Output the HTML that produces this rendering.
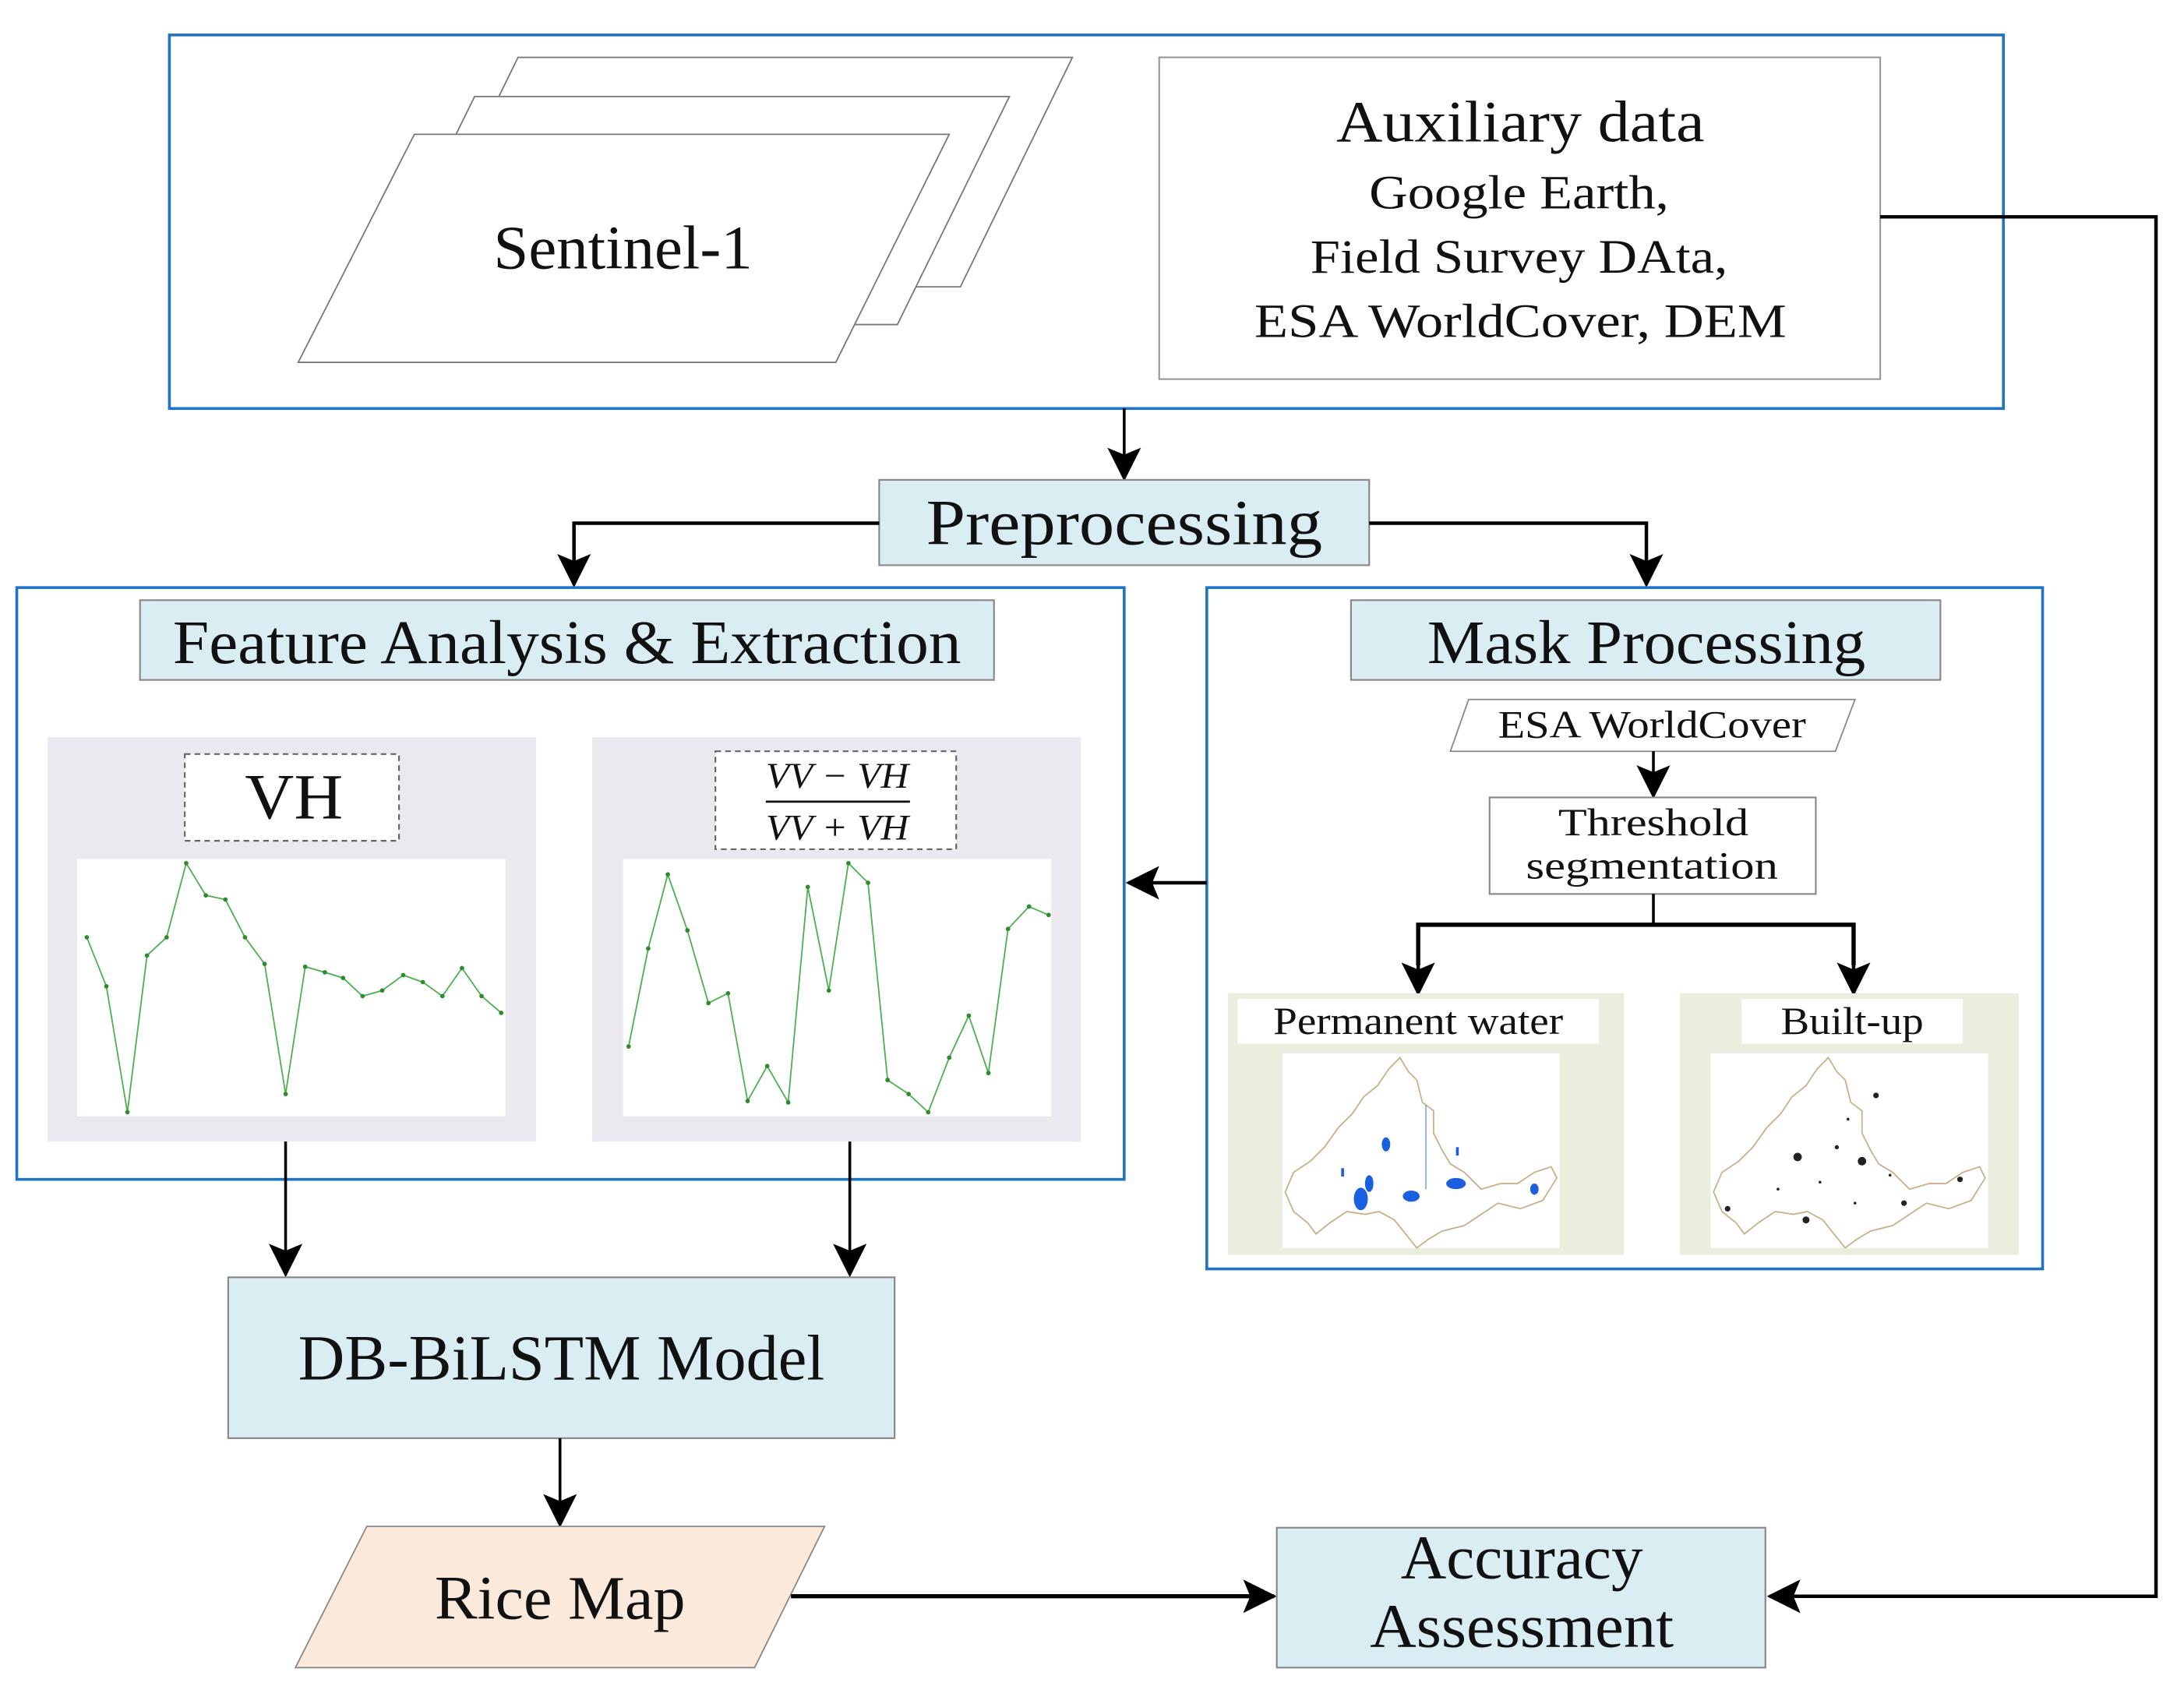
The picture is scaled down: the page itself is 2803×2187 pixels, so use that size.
<!DOCTYPE html>
<html><head><meta charset="utf-8"><style>
html,body{margin:0;padding:0;background:#fff;}
svg{display:block;}
text{font-family:"Liberation Serif","Times New Roman",serif;fill:#111;}
</style></head><body>
<svg width="2803" height="2187" viewBox="0 0 1560 1218" preserveAspectRatio="none" xmlns="http://www.w3.org/2000/svg" font-family="Liberation Serif, serif">
<defs>
<marker id="arB" markerWidth="24" markerHeight="28" refX="22" refY="12" orient="auto" markerUnits="userSpaceOnUse">
<path d="M0,0 L24,12 L0,24 L5,12 Z" fill="#000"/>
</marker>
<g id="mapshape">
<path d="M1000,756 L1006,766 L1012,772 L1016,788 L1024,794 L1024,810 L1030,822 L1036,832 L1046,838 L1058,850 L1072,846 L1084,846 L1096,838 L1108,834 L1112,842 L1102,858 L1086,864 L1070,860 L1058,868 L1046,876 L1030,880 L1020,886 L1012,892 L1004,882 L996,872 L985,866 L975,868 L962,866 L950,874 L940,882 L934,874 L924,866 L918,852 L924,838 L936,830 L946,820 L956,806 L966,796 L974,784 L984,776 L992,764 Z" fill="#fff" stroke="#c8b08a" stroke-width="1"/>
</g>
</defs>

<rect x="121" y="25" width="1310" height="267" fill="#fff" stroke="#1f73c6" stroke-width="2"/>
<polygon points="370,41 766,41 686,205 290,205" fill="#fff" stroke="#777" stroke-width="1"/>
<polygon points="339,69 721,69 641,232 259,232" fill="#fff" stroke="#777" stroke-width="1"/>
<polygon points="296,96 678,96 597,259 213,259" fill="#fff" stroke="#777" stroke-width="1"/>
<text x="445" y="192" font-size="44" text-anchor="middle" textLength="185" lengthAdjust="spacingAndGlyphs">Sentinel-1</text>
<rect x="828" y="41" width="515" height="230" fill="#fff" stroke="#999" stroke-width="1.2"/>
<text x="1086" y="101" font-size="42" text-anchor="middle" textLength="263" lengthAdjust="spacingAndGlyphs">Auxiliary data</text>
<text x="1085" y="149" font-size="34" text-anchor="middle" textLength="214" lengthAdjust="spacingAndGlyphs">Google Earth,</text>
<text x="1085" y="195" font-size="34" text-anchor="middle" textLength="298" lengthAdjust="spacingAndGlyphs">Field Survey DAta,</text>
<text x="1086" y="241" font-size="34" text-anchor="middle" textLength="380" lengthAdjust="spacingAndGlyphs">ESA WorldCover, DEM</text>

<polyline points="1343,155 1540,155 1540,1141 1264,1141" fill="none" stroke="#000" stroke-width="2.5" marker-end="url(#arB)"/>

<line x1="803" y1="292" x2="803" y2="342" stroke="#000" stroke-width="2" marker-end="url(#arB)"/>
<rect x="628" y="343" width="350" height="61" fill="#daedf3" stroke="#888" stroke-width="1.2"/>
<text x="803" y="389" font-size="46" text-anchor="middle" textLength="283" lengthAdjust="spacingAndGlyphs">Preprocessing</text>
<polyline points="628,374 410,374 410,418" fill="none" stroke="#000" stroke-width="2.5" marker-end="url(#arB)"/>
<polyline points="978,374 1176,374 1176,418" fill="none" stroke="#000" stroke-width="2.5" marker-end="url(#arB)"/>

<rect x="12" y="420" width="791" height="423" fill="#fff" stroke="#1f73c6" stroke-width="2"/>
<rect x="100" y="429" width="610" height="57" fill="#daedf3" stroke="#888" stroke-width="1.2"/>
<text x="405" y="474" font-size="44" text-anchor="middle" textLength="563" lengthAdjust="spacingAndGlyphs">Feature Analysis &amp; Extraction</text>

<rect x="34" y="527" width="349" height="289" fill="#ebe8ef"/>
<rect x="55" y="614" width="306" height="184" fill="#fff"/>
<rect x="132" y="539" width="153" height="62" fill="#fff" stroke="#666" stroke-width="1.2" stroke-dasharray="4,3"/>
<text x="210" y="585" font-size="46" text-anchor="middle" textLength="70" lengthAdjust="spacingAndGlyphs">VH</text>
<polyline fill="none" stroke="#4caf50" stroke-width="1" points="62,670 76,705 91,795 105,683 119,670 133,617 147,640 161,643 175,670 189,689 204,782 218,691 232,695 245,699 259,712 273,708 288,697 302,702 316,712 330,692 344,712 358,724"/>
<g fill="#2e8b2e">
<circle cx="62" cy="670" r="1.6"/><circle cx="76" cy="705" r="1.6"/><circle cx="91" cy="795" r="1.6"/><circle cx="105" cy="683" r="1.6"/><circle cx="119" cy="670" r="1.6"/><circle cx="133" cy="617" r="1.6"/><circle cx="147" cy="640" r="1.6"/><circle cx="161" cy="643" r="1.6"/><circle cx="175" cy="670" r="1.6"/><circle cx="189" cy="689" r="1.6"/><circle cx="204" cy="782" r="1.6"/><circle cx="218" cy="691" r="1.6"/><circle cx="232" cy="695" r="1.6"/><circle cx="245" cy="699" r="1.6"/><circle cx="259" cy="712" r="1.6"/><circle cx="273" cy="708" r="1.6"/><circle cx="288" cy="697" r="1.6"/><circle cx="302" cy="702" r="1.6"/><circle cx="316" cy="712" r="1.6"/><circle cx="330" cy="692" r="1.6"/><circle cx="344" cy="712" r="1.6"/><circle cx="358" cy="724" r="1.6"/>
</g>

<rect x="423" y="527" width="349" height="289" fill="#ebe8ef"/>
<rect x="445" y="614" width="306" height="184" fill="#fff"/>
<rect x="511" y="537" width="172" height="70" fill="#fff" stroke="#666" stroke-width="1.2" stroke-dasharray="4,3"/>
<text x="598" y="563" font-size="26" font-style="italic" text-anchor="middle" textLength="102" lengthAdjust="spacingAndGlyphs">VV − VH</text>
<line x1="547" y1="573" x2="650" y2="573" stroke="#111" stroke-width="1.5"/>
<text x="598" y="600" font-size="26" font-style="italic" text-anchor="middle" textLength="102" lengthAdjust="spacingAndGlyphs">VV + VH</text>
<polyline fill="none" stroke="#4caf50" stroke-width="1" points="449,748 463,678 477,625 491,665 506,717 520,710 534,787 548,762 563,788 577,634 592,708 606,617 620,631 634,772 649,782 663,795 678,756 692,726 706,767 720,664 735,648 749,654"/>
<g fill="#2e8b2e">
<circle cx="449" cy="748" r="1.6"/><circle cx="463" cy="678" r="1.6"/><circle cx="477" cy="625" r="1.6"/><circle cx="491" cy="665" r="1.6"/><circle cx="506" cy="717" r="1.6"/><circle cx="520" cy="710" r="1.6"/><circle cx="534" cy="787" r="1.6"/><circle cx="548" cy="762" r="1.6"/><circle cx="563" cy="788" r="1.6"/><circle cx="577" cy="634" r="1.6"/><circle cx="592" cy="708" r="1.6"/><circle cx="606" cy="617" r="1.6"/><circle cx="620" cy="631" r="1.6"/><circle cx="634" cy="772" r="1.6"/><circle cx="649" cy="782" r="1.6"/><circle cx="663" cy="795" r="1.6"/><circle cx="678" cy="756" r="1.6"/><circle cx="692" cy="726" r="1.6"/><circle cx="706" cy="767" r="1.6"/><circle cx="720" cy="664" r="1.6"/><circle cx="735" cy="648" r="1.6"/><circle cx="749" cy="654" r="1.6"/>
</g>

<rect x="862" y="420" width="597" height="487" fill="#fff" stroke="#1f73c6" stroke-width="2"/>
<line x1="862" y1="631" x2="806" y2="631" stroke="#000" stroke-width="2.5" marker-end="url(#arB)"/>
<rect x="965" y="429" width="421" height="57" fill="#daedf3" stroke="#888" stroke-width="1.2"/>
<text x="1176" y="474" font-size="44" text-anchor="middle" textLength="313" lengthAdjust="spacingAndGlyphs">Mask Processing</text>
<polygon points="1049,500 1325,500 1311,537 1036,537" fill="#fff" stroke="#888" stroke-width="1"/>
<text x="1180" y="527" font-size="28" text-anchor="middle" textLength="220" lengthAdjust="spacingAndGlyphs">ESA WorldCover</text>
<line x1="1181" y1="537" x2="1181" y2="569" stroke="#000" stroke-width="2" marker-end="url(#arB)"/>
<rect x="1064" y="570" width="233" height="69" fill="#fff" stroke="#888" stroke-width="1.2"/>
<text x="1181" y="597" font-size="28" text-anchor="middle" textLength="136" lengthAdjust="spacingAndGlyphs">Threshold</text>
<text x="1180" y="628" font-size="28" text-anchor="middle" textLength="180" lengthAdjust="spacingAndGlyphs">segmentation</text>
<line x1="1181" y1="639" x2="1181" y2="661" stroke="#000" stroke-width="2"/>
<polyline points="1013,690 1013,661 1324,661 1324,690" fill="none" stroke="#000" stroke-width="3"/>
<line x1="1013" y1="680" x2="1013" y2="710" stroke="#000" stroke-width="2.5" marker-end="url(#arB)"/>
<line x1="1324" y1="680" x2="1324" y2="710" stroke="#000" stroke-width="2.5" marker-end="url(#arB)"/>

<rect x="877" y="710" width="283" height="187" fill="#e9eedf"/>
<rect x="884" y="714" width="258" height="32" fill="#fff"/>
<text x="1013" y="739" font-size="28" text-anchor="middle" textLength="207" lengthAdjust="spacingAndGlyphs">Permanent water</text>
<rect x="916" y="753" width="198" height="139" fill="#fff"/>
<use href="#mapshape"/>
<g fill="#1a5fe0">
<ellipse cx="972" cy="857" rx="5" ry="8"/><ellipse cx="978" cy="846" rx="3" ry="6"/><ellipse cx="1008" cy="855" rx="6" ry="4"/><ellipse cx="1040" cy="846" rx="7" ry="4"/><ellipse cx="990" cy="818" rx="3" ry="5"/><ellipse cx="1096" cy="850" rx="3" ry="4"/>
<rect x="1018" y="790" width="1" height="60" opacity="0.5"/><rect x="958" y="835" width="2" height="6"/><rect x="1040" y="820" width="2" height="6"/>
</g>

<rect x="1200" y="710" width="242" height="187" fill="#e9eedf"/>
<rect x="1244" y="714" width="158" height="32" fill="#fff"/>
<text x="1323" y="739" font-size="28" text-anchor="middle" textLength="102" lengthAdjust="spacingAndGlyphs">Built-up</text>
<rect x="1222" y="753" width="198" height="139" fill="#fff"/>
<use href="#mapshape" transform="translate(306,0)"/>
<g fill="#222">
<circle cx="1284" cy="827" r="3"/><circle cx="1330" cy="830" r="3"/><circle cx="1290" cy="872" r="2.5"/><circle cx="1234" cy="864" r="2"/><circle cx="1360" cy="860" r="2"/><circle cx="1400" cy="843" r="2"/><circle cx="1340" cy="783" r="2"/><circle cx="1312" cy="820" r="1.5"/><circle cx="1320" cy="800" r="1"/><circle cx="1300" cy="845" r="1"/><circle cx="1350" cy="840" r="1"/><circle cx="1270" cy="850" r="1"/><circle cx="1325" cy="860" r="1"/>
</g>

<line x1="204" y1="816" x2="204" y2="911" stroke="#000" stroke-width="2" marker-end="url(#arB)"/>
<line x1="607" y1="816" x2="607" y2="911" stroke="#000" stroke-width="2" marker-end="url(#arB)"/>
<rect x="163" y="913" width="476" height="115" fill="#daedf3" stroke="#888" stroke-width="1.2"/>
<text x="401" y="986" font-size="46" text-anchor="middle" textLength="376" lengthAdjust="spacingAndGlyphs">DB-BiLSTM Model</text>
<line x1="400" y1="1028" x2="400" y2="1090" stroke="#000" stroke-width="2" marker-end="url(#arB)"/>

<polygon points="262,1091 589,1091 539,1192 211,1192" fill="#fbe9dc" stroke="#888" stroke-width="1"/>
<text x="400" y="1157" font-size="44" text-anchor="middle" textLength="179" lengthAdjust="spacingAndGlyphs">Rice Map</text>
<line x1="565" y1="1141" x2="910" y2="1141" stroke="#000" stroke-width="3" marker-end="url(#arB)"/>

<rect x="912" y="1092" width="349" height="100" fill="#daedf3" stroke="#888" stroke-width="1.2"/>
<text x="1087" y="1128" font-size="44" text-anchor="middle" textLength="173" lengthAdjust="spacingAndGlyphs">Accuracy</text>
<text x="1087" y="1177" font-size="44" text-anchor="middle" textLength="217" lengthAdjust="spacingAndGlyphs">Assessment</text>
</svg>
</body></html>
